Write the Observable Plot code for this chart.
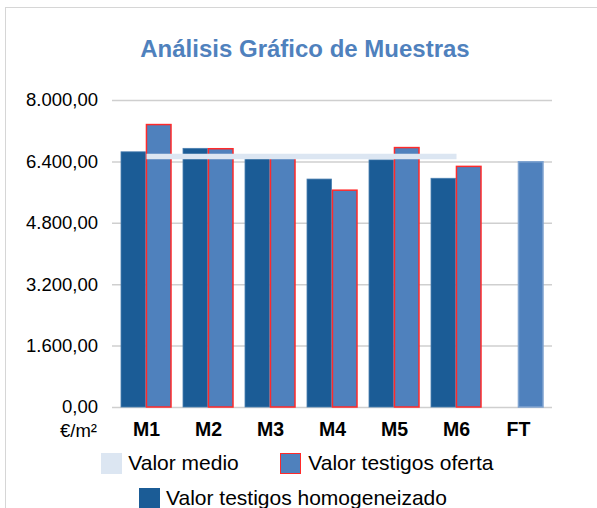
<!DOCTYPE html>
<html>
<head>
<meta charset="utf-8">
<script src="https://cdn.jsdelivr.net/npm/d3@7"></script>
<script src="https://cdn.jsdelivr.net/npm/@observablehq/plot@0.6"></script>
<style>
  html, body { margin: 0; padding: 0; background: #fff; overflow: hidden; }
  body { width: 597px; height: 508px; position: relative; font-family: "Liberation Sans", Arial, sans-serif; }
  #frame { position: absolute; left: 5px; top: 7px; width: 700px; height: 600px; border: 1px solid #d6d6d6; }
  #title { position: absolute; left: 0; width: 610px; top: 36.7px; text-align: center; font-size: 24px; font-weight: bold; color: #4f81bd; line-height: 24px; white-space: nowrap; }
  #chart { position: absolute; left: 0; top: 80px; }
  #unit { position: absolute; right: 500px; top: 422.3px; font-size: 18.5px; line-height: 18.5px; color: #000; }
  .leg { position: absolute; font-size: 21px; line-height: 21px; color: #000; white-space: nowrap; }
  .sw { position: absolute; box-sizing: border-box; }
</style>
</head>
<body>
<div id="frame"></div>
<div id="title">Análisis Gráfico de Muestras</div>
<div id="chart"></div>
<div id="unit">€/m²</div>
<div id="legend"></div>
<script>
// ---- data ----
const categories = ["M1", "M2", "M3", "M4", "M5", "M6", "FT"];
const homogeneizado = [6650, 6740, 6520, 5940, 6440, 5960, null];
const oferta = [7360, 6730, 6520, 5650, 6760, 6270, 6390];
const valorMedio = 6540;
const meanCategories = ["M1", "M2", "M3", "M4", "M5", "M6"];
const yTicks = [0, 1600, 3200, 4800, 6400, 8000];
const seriesNames = ["Valor medio", "Valor testigos oferta", "Valor testigos homogeneizado"];

// ---- tables ----
const homogRows = categories.map((c, i) => ({cat: c, v: homogeneizado[i]})).filter(d => d.v != null);
const ofertaRows = categories.map((c, i) => ({cat: c, v: oferta[i], ft: c === "FT"}));
const meanRows = meanCategories.map(c => ({cat: c, v: valorMedio}));

const fmt = d3.formatLocale({decimal: ",", thousands: ".", grouping: [3], currency: ["", ""]}).format(",.2f");

const W = 597, ml = 112, mr = 45;
const pIn = 0.19, pOut = 0.095;
const step = (W - ml - mr) / (categories.length - pIn + 2 * pOut);
const half = step * (1 - pIn) / 2;

const plot = Plot.plot({
  width: W,
  height: 362,
  marginLeft: ml,
  marginRight: mr,
  marginTop: 20,
  marginBottom: 35,
  style: {fontFamily: "'Liberation Sans', Arial, sans-serif", color: "#000", background: "transparent"},
  x: {type: "band", domain: categories, paddingInner: pIn, paddingOuter: pOut, label: null},
  y: {domain: [0, 8000], label: null},
  marks: [
    Plot.ruleY(yTicks, {stroke: "#cfcfcf", strokeWidth: 1.5}),
    Plot.barY(homogRows, {x: "cat", y: "v", fill: "#1b5c96", stroke: "#4a7fb0", strokeWidth: 0.8, insetRight: half}),
    Plot.barY(ofertaRows, {x: "cat", y: "v", fill: "#4f81bd", stroke: d => d.ft ? "#7fa3d0" : "#ff2a2a", strokeWidth: 1.5, insetLeft: half}),
    Plot.lineY(meanRows, {x: "cat", y: "v", stroke: "#dce6f2", strokeWidth: 5.5, strokeLinecap: "butt"}),
    Plot.axisY({ticks: yTicks, tickFormat: fmt, tickSize: 0, tickPadding: 14.5, fontSize: 18.5, label: null}),
    Plot.axisX({tickSize: 0, tickPadding: 14.5, fontSize: 19.5, fontWeight: "bold", label: null})
  ]
});
document.getElementById("chart").appendChild(plot);

// ---- legend ----
const leg = document.getElementById("legend");
const items = [
  {name: seriesNames[0], sx: 101, sy: 453, fill: "#dce6f2", border: "none", tx: 128.3, ty: 452.2},
  {name: seriesNames[1], sx: 280, sy: 453, fill: "#4f81bd", border: "1.5px solid #ff2a2a", tx: 308.3, ty: 452.2},
  {name: seriesNames[2], sx: 139, sy: 487.5, fill: "#1b5c96", border: "none", tx: 166, ty: 486.5}
];
for (const it of items) {
  const s = document.createElement("div");
  s.className = "sw";
  s.style.left = it.sx + "px"; s.style.top = it.sy + "px";
  s.style.width = "21px"; s.style.height = "21px";
  s.style.background = it.fill; s.style.border = it.border;
  leg.appendChild(s);
  const t = document.createElement("div");
  t.className = "leg";
  t.style.left = it.tx + "px"; t.style.top = it.ty + "px";
  t.textContent = it.name;
  leg.appendChild(t);
}
</script>
</body>
</html>
